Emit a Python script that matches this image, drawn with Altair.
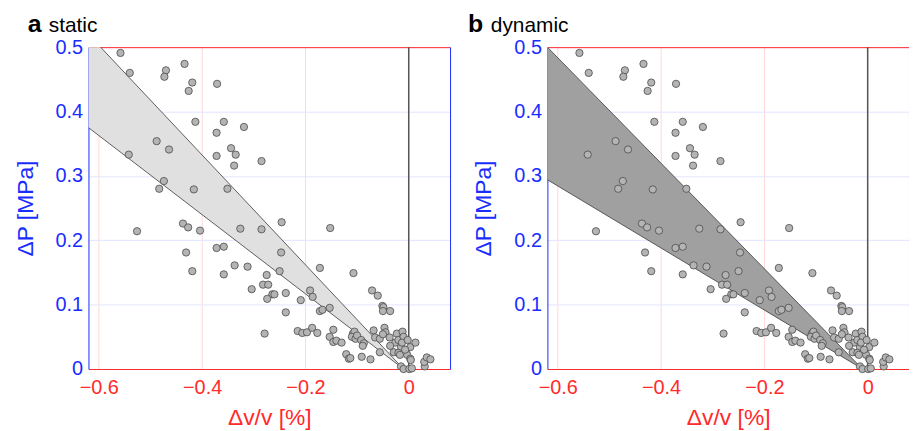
import altair as alt
import pandas as pd

# ---- data (same points in both panels) ----
pt_x = [-0.558, -0.540, -0.434, -0.470, -0.473, -0.419, -0.426, -0.371, -0.413, -0.358,
        -0.319, -0.372, -0.488, -0.464, -0.344, -0.335, -0.542, -0.372, -0.338, -0.285,
        -0.474, -0.483, -0.416, -0.351, -0.526, -0.437, -0.427, -0.404, -0.326, -0.285,
        -0.246, -0.152, -0.431, -0.372, -0.358, -0.247, -0.419, -0.337, -0.312, -0.358,
        -0.250, -0.172, -0.107, -0.275, -0.282, -0.272, -0.304, -0.191, -0.264, -0.260,
        -0.238, -0.274, -0.186, -0.209, -0.071, -0.060, -0.238, -0.172, -0.167, -0.153,
        -0.051, -0.049, -0.050, -0.036, -0.279, -0.215, -0.206, -0.197, -0.187, -0.177,
        -0.146, -0.153, -0.146, -0.140, -0.130, -0.121, -0.116, -0.113, -0.091, -0.074,
        -0.108, -0.105, -0.110, -0.103, -0.100, -0.092, -0.087, -0.089, -0.068, -0.065,
        -0.056, -0.056, -0.047, -0.045, -0.050, -0.037, -0.029, -0.023, -0.026, -0.020,
        -0.015, -0.012, -0.010, -0.013, -0.020, -0.017, -0.002, 0.003, 0.013, -0.003,
        0.003, 0.004, -0.015, -0.010, 0.001, 0.006, 0.031, 0.030, 0.035, 0.042,
        -0.007, -0.036]
pt_y = [0.491, 0.460, 0.474, 0.464, 0.454, 0.445, 0.432, 0.443, 0.384, 0.384,
        0.376, 0.367, 0.354, 0.341, 0.343, 0.333, 0.333, 0.331, 0.316, 0.323,
        0.292, 0.280, 0.279, 0.280, 0.214, 0.226, 0.220, 0.215, 0.218, 0.217,
        0.228, 0.219, 0.181, 0.188, 0.190, 0.181, 0.152, 0.161, 0.159, 0.147,
        0.152, 0.157, 0.149, 0.146, 0.131, 0.131, 0.124, 0.122, 0.116, 0.116,
        0.118, 0.109, 0.112, 0.107, 0.122, 0.114, 0.088, 0.090, 0.092, 0.095,
        0.098, 0.096, 0.090, 0.090, 0.055, 0.059, 0.056, 0.057, 0.064, 0.056,
        0.061, 0.050, 0.042, 0.044, 0.041, 0.023, 0.016, 0.017, 0.019, 0.015,
        0.055, 0.058, 0.050, 0.047, 0.052, 0.045, 0.040, 0.036, 0.060, 0.049,
        0.047, 0.026, 0.064, 0.057, 0.054, 0.049, 0.026, 0.055, 0.041, 0.045,
        0.034, 0.058, 0.050, 0.041, 0.025, 0.022, 0.045, 0.034, 0.041, 0.022,
        0.016, 0.014, 0.004, 0.000, 0.000, 0.001, 0.004, 0.011, 0.018, 0.015,
        0.030, 0.036]

band_x = [-0.62, -0.01]
band_a_lo = [0.375, 0.0]
band_a_hi = [0.520, 0.0]
band_b_lo = [0.294, 0.0]
band_b_hi = [0.500, 0.0]

x_ticks = [-0.6, -0.4, -0.2, 0]
y_ticks = [0, 0.1, 0.2, 0.3, 0.4, 0.5]

panels = [("a", "static", band_a_lo, band_a_hi, "#e0e0e0", -61, -40),
          ("b", "dynamic", band_b_lo, band_b_hi, "#a0a0a0", -80, -57)]

RED = "#ff2a2a"
BLUE = "#1a2dff"
FONT = "Liberation Sans"
W, H = 364, 324

pts = pd.DataFrame({"x": pt_x, "y": pt_y})
xs = alt.Scale(domain=[-0.62, 0.08], nice=False, zero=False)
ys = alt.Scale(domain=[0, 0.5], nice=False, zero=False)


def make_panel(letter, word, lo, hi, fill, lx, wx):
    band = pd.DataFrame({"bx": band_x, "lo": lo, "hi": hi})
    area = alt.Chart(band).mark_area(fill=fill, opacity=1, clip=True).encode(
        x=alt.X("bx:Q", scale=xs, axis=None),
        y=alt.Y("lo:Q", scale=ys, axis=None),
        y2="hi:Q")
    line_lo = alt.Chart(band).mark_line(color="#3a3a3a", strokeWidth=0.8, clip=True).encode(
        x=alt.X("bx:Q", scale=xs, axis=None),
        y=alt.Y("lo:Q", scale=ys, axis=None))
    line_hi = alt.Chart(band).mark_line(color="#3a3a3a", strokeWidth=0.8, clip=True).encode(
        x=alt.X("bx:Q", scale=xs, axis=None),
        y=alt.Y("hi:Q", scale=ys,
                axis=alt.Axis(orient="right", labels=False, ticks=False, grid=False,
                              title=None, domainColor=BLUE, domainWidth=1)))
    zero = alt.Chart(pd.DataFrame({"z": [0]})).mark_rule(color="#555555", strokeWidth=1.5).encode(
        x=alt.X("z:Q", scale=xs,
                axis=alt.Axis(orient="top", labels=False, ticks=False, grid=False,
                              title=None, domainColor=RED, domainWidth=1)))
    points = alt.Chart(pts).mark_circle(size=54, color="#b4b4b4", opacity=1,
                                        stroke="#4a4a4a", strokeWidth=0.8).encode(
        x=alt.X("x:Q", scale=xs,
                axis=alt.Axis(values=x_ticks, format="~g", title="Δv/v [%]",
                              labelColor=RED, titleColor=RED, domainColor=RED,
                              gridColor="#ffd9d9", grid=True, ticks=False,
                              labelFont=FONT, titleFont=FONT, labelFontSize=20,
                              titleFontSize=23, titleFontWeight="normal",
                              labelPadding=9, titlePadding=9)),
        y=alt.Y("y:Q", scale=ys,
                axis=alt.Axis(values=y_ticks, format="~g", title="ΔP [MPa]",
                              labelColor=BLUE, titleColor=BLUE, domainColor=BLUE,
                              gridColor="#e2e5ff", grid=True, ticks=False,
                              labelFont=FONT, titleFont=FONT, labelFontSize=20,
                              titleFontSize=23, titleFontWeight="normal",
                              labelPadding=6, titlePadding=18)))
    t_letter = alt.Chart(pd.DataFrame({"t": [letter]})).mark_text(
        align="left", baseline="alphabetic", font=FONT, fontSize=25,
        fontWeight="bold", color="black").encode(
        text="t:N", x=alt.value(lx), y=alt.value(-15))
    t_word = alt.Chart(pd.DataFrame({"t": [word]})).mark_text(
        align="left", baseline="alphabetic", font=FONT, fontSize=21,
        color="black").encode(
        text="t:N", x=alt.value(wx), y=alt.value(-15))
    return alt.layer(area, line_lo, line_hi, zero, points, t_letter, t_word).resolve_axis(
        x="independent", y="independent").properties(width=W, height=H)


chart = alt.hconcat(*[make_panel(*p) for p in panels], spacing=18).properties(
    padding={"left": 6, "top": 3, "right": 0, "bottom": 0}
).configure_view(stroke=None).configure_axis(domainWidth=1, gridWidth=1)

chart.save("out.html", embed_options={"renderer": "svg", "actions": False})
